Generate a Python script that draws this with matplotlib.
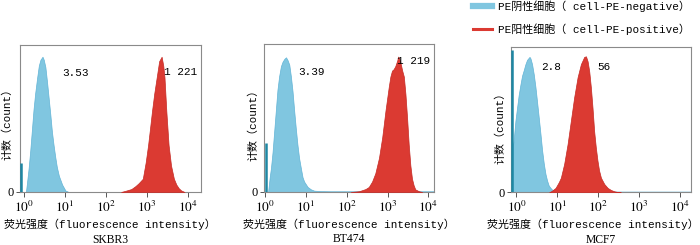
import numpy as np
import matplotlib
matplotlib.use("Agg")
import matplotlib.pyplot as plt
from matplotlib.lines import Line2D
from matplotlib.ticker import FixedLocator, NullFormatter, LogLocator

plt.rcParams['mathtext.fontset'] = 'stix'

# ---------------- data ----------------
cell_lines = ["SKBR3", "BT474", "MCF7"]
neg_values = ["3.53", "3.39", "2.8"]
pos_values = ["1 221", "1 219", "56"]
legend_labels = ["PE阴性细胞（ cell-PE-negative）", "PE阳性细胞（ cell-PE-positive）"]
xlabel_text = "荧光强度（fluorescence intensity）"
ylabel_text = "计数（count）"
xtick_values = [1, 10, 100, 1000, 10000]
xtick_labels = [r"$10^{0}$", r"$10^{1}$", r"$10^{2}$", r"$10^{3}$", r"$10^{4}$"]

# events piled up at the lowest channel (log10 intensity, relative count)
spike_logx = [-0.07, 0.02, -0.11]
spike_count = [20, 33, 98]

# SKBR3
neg1_logx = [0.045, 0.07, 0.11, 0.15, 0.19, 0.23, 0.27, 0.32, 0.36, 0.40, 0.45, 0.48, 0.52,
             0.56, 0.60, 0.64, 0.68, 0.72, 0.76, 0.80, 0.85, 0.89, 0.93, 0.97, 1.01, 1.09]
neg1_count = [0, 6, 16, 28, 42, 56, 67, 78, 86, 90, 92, 90, 85,
              75, 64, 53, 41, 32, 24, 17, 11, 8, 5, 3, 1, 0]
pos1_logx = [2.37, 2.50, 2.62, 2.72, 2.80, 2.90, 2.97, 3.03, 3.08, 3.125, 3.18, 3.24, 3.30,
             3.36, 3.40, 3.43, 3.475, 3.53, 3.59, 3.66, 3.72, 3.78, 3.84, 3.92]
pos1_count = [0, 1, 2, 4, 6, 9, 20, 32, 44, 55, 67, 78, 89,
              92, 86, 78, 55, 32, 18, 9, 5, 2.5, 1, 0]

# BT474
neg2_logx = [0.07, 0.11, 0.14, 0.18, 0.22, 0.26, 0.30, 0.34, 0.385, 0.425, 0.47, 0.51, 0.55,
             0.59, 0.63, 0.67, 0.71, 0.75, 0.79, 0.83, 0.875, 0.915, 0.955, 1.04, 1.12, 1.20,
             1.37, 1.60, 2.00, 2.40, 3.00, 3.60, 4.15]
neg2_count = [0, 10, 16, 27, 41, 55, 69, 78, 85, 88, 90, 91, 89,
              86, 78, 68, 55, 43, 32, 23, 16, 10, 7, 3.4, 1.8, 0.9,
              0.6, 0.5, 0.5, 0.5, 0.5, 0.5, 0.5]
pos2_logx = [2.10, 2.30, 2.46, 2.54, 2.62, 2.70, 2.79, 2.87, 2.95, 3.03, 3.07, 3.11, 3.15,
             3.19, 3.24, 3.26, 3.29, 3.32, 3.36, 3.40, 3.44, 3.48, 3.52, 3.56, 3.60, 3.64,
             3.68, 3.77, 3.85]
pos2_count = [0, 0.5, 2, 3.4, 7, 12.6, 23, 37, 55, 71, 78, 82, 83,
              85, 89, 91.5, 90, 87, 82, 78, 66, 50, 32, 18, 9, 4.6,
              1.8, 0.5, 0]

# MCF7
neg3_logx = [-0.10, -0.07, -0.025, 0.015, 0.056, 0.098, 0.137, 0.18, 0.22, 0.26, 0.32, 0.343,
             0.382, 0.424, 0.466, 0.505, 0.547, 0.588, 0.627, 0.67, 0.71, 0.75, 0.79, 0.833,
             0.873, 0.956, 1.09, 1.50, 2.00, 2.50, 3.00, 3.50, 4.00, 4.26]
neg3_count = [30, 35, 49, 58, 67, 74, 80, 84, 88, 91, 93, 92,
              88, 81, 72, 62, 51, 40, 29, 19.5, 12.6, 8, 4.6, 3,
              1.8, 0.8, 0.5, 0.5, 0.5, 0.5, 0.5, 0.5, 0.5, 0.5]
pos3_logx = [0.80, 0.865, 0.956, 1.037, 1.086, 1.167, 1.25, 1.33, 1.41, 1.495, 1.576, 1.657,
             1.70, 1.74, 1.78, 1.82, 1.86, 1.90, 1.94, 1.98, 2.02, 2.066, 2.147, 2.23, 2.31,
             2.39, 2.475, 2.55]
pos3_count = [0, 1, 3, 7, 10, 19.5, 33, 49, 65, 79, 88, 93,
              93.4, 90, 83, 72, 58, 42, 31, 22, 15, 10, 5.7, 3, 1.6,
              0.7, 0.2, 0]

neg_series = [(neg1_logx, neg1_count), (neg2_logx, neg2_count), (neg3_logx, neg3_count)]
pos_series = [(pos1_logx, pos1_count), (pos2_logx, pos2_count), (pos3_logx, pos3_count)]

# ---------------- style / layout ----------------
BLUE = "#80c6e0"
BLUE_EDGE = "#62b4d6"
SPIKE = "#1e87a3"
RED = "#db3a32"
RED_EDGE = "#c62a25"
SPINE = "#8a8a8a"
MIX = ['Liberation Mono', 'Noto Sans CJK SC']
FS = 7.9

W, H = 700, 245
# axes boxes in pixels: left, top, right, bottom
boxes = [(20, 45, 200.5, 192), (264, 44, 434, 192), (510.7, 46.7, 690.7, 192.3)]
xlims = [(-0.10, 4.31), (-0.03, 4.14), (-0.14, 4.26)]
neg_pos = [(0.307, 0.81), (0.282, 0.81), (0.224, 0.86)]
pos_pos = [(0.889, 0.816), (0.882, 0.885), (0.518, 0.86)]
ylab_pos = [(-0.069, 0.48), (-0.065, 0.47), (-0.059, 0.46)]
# x label anchor: (x in axes fraction, horizontal alignment)
xlab_anchor = [(0.5, 'center'), (0.5, 'center'), ((698.5 - 510.7) / 180, 'right')]

fig = plt.figure(figsize=(W / 100, H / 100), dpi=100)

for i in range(3):
    l, t, r, b = boxes[i]
    ax = fig.add_axes([l / W, 1 - b / H, (r - l) / W, (b - t) / H])
    nx, nc = neg_series[i]
    px, pc = pos_series[i]
    ax.fill_between(10 ** np.array(nx), nc, 0, facecolor=BLUE, edgecolor=BLUE_EDGE, lw=0.5, zorder=2)
    ax.vlines(10 ** spike_logx[i], 0, spike_count[i], color=SPIKE, lw=1.8, zorder=3)
    ax.fill_between(10 ** np.array(px), pc, 0, facecolor=RED, edgecolor=RED_EDGE, lw=0.5, zorder=4)

    ax.set_xscale('log')
    ax.set_xlim(10 ** xlims[i][0], 10 ** xlims[i][1])
    ax.set_ylim(0, 100)
    ax.xaxis.set_major_locator(FixedLocator(xtick_values))
    ax.set_xticklabels(xtick_labels, fontsize=9.5)
    ax.xaxis.set_minor_locator(LogLocator(base=10, subs=np.arange(2, 10)))
    ax.xaxis.set_minor_formatter(NullFormatter())
    ax.set_yticks([0])
    ax.set_yticklabels(['0'], fontfamily='Liberation Serif', fontsize=9)
    ax.tick_params(axis='x', which='major', length=3.5, width=0.7, color='#555555', pad=2)
    ax.tick_params(axis='x', which='minor', length=2.2, width=0.6, color='#555555')
    ax.tick_params(axis='y', length=3, width=0.7, color='#555555', pad=1.5)
    for s in ax.spines.values():
        s.set_color(SPINE)
        s.set_linewidth(0.8)

    ax.text(*neg_pos[i], neg_values[i], transform=ax.transAxes, ha='center', va='center',
            fontfamily=MIX, fontsize=FS, zorder=6)
    ax.text(*pos_pos[i], pos_values[i], transform=ax.transAxes, ha='center', va='center',
            fontfamily=MIX, fontsize=FS, zorder=6)
    ax.text(*ylab_pos[i], ylabel_text, transform=ax.transAxes, rotation=90,
            ha='center', va='center', fontfamily=MIX, fontsize=FS)
    hpx = b - t
    ax.text(xlab_anchor[i][0], (b - 224.5) / hpx, xlabel_text, transform=ax.transAxes,
            ha=xlab_anchor[i][1], va='center', fontfamily=MIX, fontsize=FS)
    ax.text(0.5, (b - 239.5) / hpx, cell_lines[i], transform=ax.transAxes, ha='center', va='center',
            fontfamily='Liberation Serif', fontsize=8.4)

handles = [Line2D([], [], color=BLUE, lw=4.5), Line2D([], [], color=RED, lw=2.2)]
fig.legend(handles, legend_labels, loc='upper left', bbox_to_anchor=(473 / W, 1 - 0.5 / H),
           frameon=False, prop={'family': MIX, 'size': FS}, handlelength=1.75,
           handletextpad=0.55, labelspacing=1.05, borderpad=0, borderaxespad=0)

fig.savefig("out.png", dpi=100)
